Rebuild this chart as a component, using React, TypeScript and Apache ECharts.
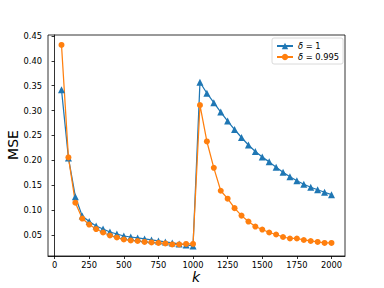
import React, { useEffect, useRef } from "react";
import * as echarts from "echarts";

const ks = [50,100,150,200,250,300,350,400,450,500,550,600,650,700,750,800,850,900,950,1000,
  1050,1100,1150,1200,1250,1300,1350,1400,1450,1500,1550,1600,1650,1700,1750,1800,1850,1900,1950,2000];
const mseDelta1 = [0.342,0.205,0.127,0.088,0.077,0.068,0.062,0.056,0.052,0.048,0.046,0.044,0.042,0.040,0.038,0.036,0.034,0.032,0.030,0.028,
  0.357,0.335,0.316,0.297,0.279,0.262,0.246,0.231,0.218,0.207,0.197,0.186,0.176,0.167,0.159,0.152,0.146,0.141,0.136,0.131];
const mseDelta0995 = [0.432,0.206,0.115,0.083,0.071,0.062,0.055,0.049,0.045,0.041,0.039,0.038,0.036,0.035,0.034,0.033,0.031,0.031,0.032,0.032,
  0.311,0.238,0.185,0.139,0.123,0.104,0.089,0.077,0.067,0.061,0.055,0.051,0.046,0.043,0.043,0.040,0.038,0.036,0.034,0.034];
const xTicks = [0,250,500,750,1000,1250,1500,1750,2000];
const yTicks = [0.05,0.10,0.15,0.20,0.25,0.30,0.35,0.40,0.45];
const seriesNames = ["{i|δ} = 1", "{i|δ} = 0.995"];

const FONT = "DejaVu Sans";

export default function App() {
  const ref = useRef<HTMLDivElement>(null);
  useEffect(() => {
    if (!ref.current) return;
    const chart = echarts.init(ref.current, null, { renderer: "svg" });
    const axisCommon = {
      axisLine: { show: true, lineStyle: { color: "#000", width: 0.8 } },
      axisTick: { show: true, inside: false, length: 3, lineStyle: { color: "#000", width: 0.8 } },
      splitLine: { show: false },
    };
    chart.setOption({
      animation: false,
      backgroundColor: "#fff",
      grid: { left: 48, top: 35, right: 39, bottom: 32, show: true, borderColor: "#000", borderWidth: 0.8, backgroundColor: "transparent" },
      xAxis: {
        type: "value",
        min: -47.5,
        max: 2097.5,
        ...axisCommon,
        axisTick: { ...axisCommon.axisTick, customValues: xTicks },
        axisLabel: { customValues: xTicks, color: "#000", fontFamily: FONT, fontSize: 8.3, margin: 5, formatter: (v: number) => String(v) },
      },
      yAxis: {
        type: "value",
        min: 0.0078,
        max: 0.452,
        ...axisCommon,
        axisTick: { ...axisCommon.axisTick, customValues: yTicks },
        axisLabel: { customValues: yTicks, color: "#000", fontFamily: FONT, fontSize: 8.3, margin: 6, formatter: (v: number) => v.toFixed(2) },
      },
      legend: {
        orient: "vertical",
        left: 272,
        top: 38,
        padding: [4, 4, 3, 4],
        itemGap: 3,
        itemWidth: 16,
        itemHeight: 8,
        borderColor: "#d0d0d0",
        borderWidth: 0.8,
        borderRadius: 2,
        backgroundColor: "#fff",
        data: seriesNames,
        textStyle: {
          fontFamily: FONT,
          fontSize: 8.3,
          color: "#000",
          rich: { i: { fontStyle: "italic", fontFamily: FONT, fontSize: 8.3, color: "#000" } },
        },
      },
      series: [
        {
          name: seriesNames[0],
          type: "line",
          data: ks.map((k, i) => [k, mseDelta1[i]]),
          symbol: "triangle",
          symbolSize: 7,
          showAllSymbol: true,
          itemStyle: { color: "#1f77b4" },
          lineStyle: { color: "#1f77b4", width: 1.25 },
        },
        {
          name: seriesNames[1],
          type: "line",
          data: ks.map((k, i) => [k, mseDelta0995[i]]),
          symbol: "circle",
          symbolSize: 6,
          showAllSymbol: true,
          itemStyle: { color: "#ff7f0e" },
          lineStyle: { color: "#ff7f0e", width: 1.25 },
        },
      ],
      graphic: [
        {
          type: "text",
          x: 12.5,
          y: 145,
          rotation: Math.PI / 2,
          style: { text: "MSE", fontFamily: FONT, fontSize: 14, fill: "#000", align: "center", verticalAlign: "middle" },
        },
        {
          type: "text",
          x: 196,
          y: 277,
          style: { text: "k", fontFamily: FONT, fontStyle: "italic", fontSize: 14, fill: "#000", align: "center", verticalAlign: "middle" },
        },
      ],
    });
    return () => chart.dispose();
  }, []);
  return <div ref={ref} style={{ position: "fixed", left: 0, top: 0, width: 384, height: 288 }} />;
}
